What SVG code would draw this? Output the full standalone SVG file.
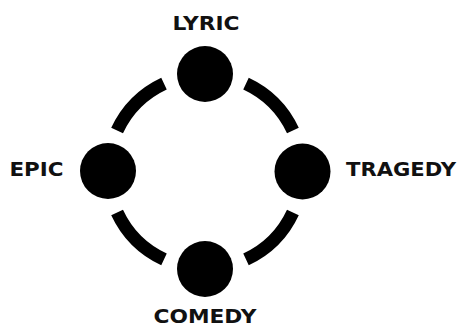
<svg xmlns="http://www.w3.org/2000/svg" width="460" height="328" viewBox="0 0 460 328">
<style>
.arc{fill:none;stroke:#000;stroke-width:13}
.node{fill:#000}
.lbl{font-family:"DejaVu Sans","Liberation Sans",sans-serif;font-weight:700;font-size:20px;fill:#111}
</style>
<rect width="460" height="328" fill="#fff"/>
<g id="connectors">
<path class="arc" d="M164.0,83.6 A97,97 0 0 0 117.1,130.5"/>
<path class="arc" d="M246.0,83.6 A97,97 0 0 1 292.9,130.5"/>
<path class="arc" d="M117.1,212.5 A97,97 0 0 0 164.0,259.4"/>
<path class="arc" d="M292.9,212.5 A97,97 0 0 1 246.0,259.4"/>
</g>
<g id="lyric"><circle class="node" cx="205" cy="74" r="28"/><text class="lbl" x="206" y="30" text-anchor="middle" textLength="67" lengthAdjust="spacingAndGlyphs">LYRIC</text></g>
<g id="epic"><circle class="node" cx="108" cy="171" r="28"/><text class="lbl" x="9.5" y="176" textLength="54" lengthAdjust="spacingAndGlyphs">EPIC</text></g>
<g id="tragedy"><circle class="node" cx="302.5" cy="171.5" r="28"/><text class="lbl" x="346" y="176" textLength="110" lengthAdjust="spacingAndGlyphs">TRAGEDY</text></g>
<g id="comedy"><circle class="node" cx="205" cy="269" r="28"/><text class="lbl" x="205" y="323" style="font-size:19px" text-anchor="middle" textLength="103" lengthAdjust="spacingAndGlyphs">COMEDY</text></g>
</svg>
